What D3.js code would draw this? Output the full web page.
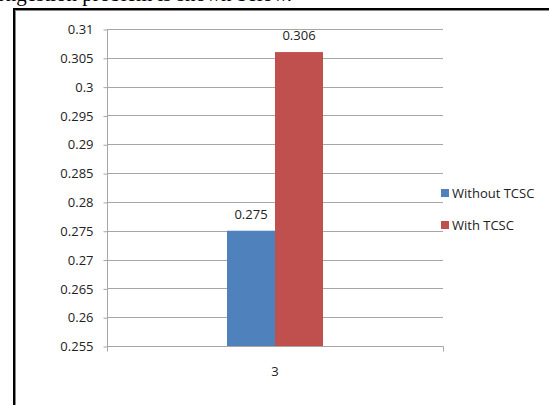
<!DOCTYPE html>
<html><head><meta charset="utf-8">
<script src="https://cdn.jsdelivr.net/npm/d3@7"></script>
<style>body{margin:0;background:#fff}svg{display:block}</style>
</head><body>
<svg id="c" width="549" height="405"></svg>
<script>
const categories = ["3"];
const seriesNames = ["Without TCSC", "With TCSC"];
const withoutTCSC = [0.275];
const withTCSC = [0.306];
const seriesValues = [withoutTCSC, withTCSC];
const seriesColors = ["#4F81BD", "#C0504D"];
const yTicks = [0.255,0.26,0.265,0.27,0.275,0.28,0.285,0.29,0.295,0.3,0.305,0.31];
const yTickLabels = ["0.255","0.26","0.265","0.27","0.275","0.28","0.285","0.29","0.295","0.3","0.305","0.31"];

const svg = d3.select("#c");
const font = "'Open Sans', sans-serif";
const L = 107, R = 443, T = 29, B = 346;

// caption fragment above frame (clipped at top edge, as in the source page)
svg.append("text").attr("x", -14).attr("y", 0.5)
  .attr("font-family", "'Liberation Serif', serif").attr("font-size", 21)
  .attr("fill", "#000").text("congestion problem is shown below.");

// frame
svg.append("line").attr("x1",13).attr("x2",549).attr("y1",9).attr("y2",9).attr("stroke","#000").attr("stroke-width",2);
svg.append("line").attr("x1",13).attr("x2",549).attr("y1",10.5).attr("y2",10.5).attr("stroke","#888").attr("stroke-width",1);
svg.append("line").attr("x1",14).attr("x2",14).attr("y1",8).attr("y2",405).attr("stroke","#000").attr("stroke-width",2);
svg.append("line").attr("x1",15.5).attr("x2",15.5).attr("y1",10).attr("y2",405).attr("stroke","#888").attr("stroke-width",1);

const y = d3.scaleLinear().domain([0.255, 0.31]).range([B, T]);
const x0 = d3.scaleBand().domain(categories).range([L, R]).paddingInner(0).paddingOuter(1.25);
const x1 = d3.scaleBand().domain(seriesNames).range([0, x0.bandwidth()]);

// gridlines
svg.append("g").selectAll("line").data(yTicks.slice(1)).join("line")
  .attr("x1", L).attr("x2", R)
  .attr("y1", d => Math.round(y(d)) + 0.5).attr("y2", d => Math.round(y(d)) + 0.5)
  .attr("stroke", "#a6a6a6").attr("stroke-width", 1);

// y axis
const yAxis = d3.axisLeft(y).tickValues(yTicks).tickFormat((d,i) => yTickLabels[i]).tickSize(4).tickPadding(10);
const gy = svg.append("g").attr("transform", `translate(${L + 0.5},0.5)`).call(yAxis);
gy.select(".domain").attr("stroke", "#a6a6a6").attr("d", `M0,${T}V${B + 5}`);
gy.selectAll(".tick line").attr("stroke", "#a6a6a6");
gy.selectAll(".tick text").attr("font-family", font).attr("font-size", 13).attr("fill", "#222");

// x axis
const xAxis = d3.axisBottom(x0).tickSize(0).tickPadding(20);
const gx = svg.append("g").attr("transform", `translate(0,${B + 0.5})`).call(xAxis);
gx.select(".domain").attr("stroke", "#a6a6a6").attr("d", `M${L},0H${R + 0.5}V5`);
gx.selectAll(".tick text").attr("font-family", font).attr("font-size", 13).attr("fill", "#222");

// bars
const groups = svg.append("g").selectAll("g").data(categories).join("g")
  .attr("transform", c => `translate(${x0(c)},0)`);
seriesNames.forEach((s, si) => {
  groups.append("rect")
    .attr("x", x1(s)).attr("width", x1.bandwidth())
    .attr("y", (c, ci) => y(seriesValues[si][ci]))
    .attr("height", (c, ci) => B - y(seriesValues[si][ci]))
    .attr("fill", seriesColors[si]);
  groups.append("text")
    .attr("x", x1(s) + x1.bandwidth() / 2)
    .attr("y", (c, ci) => y(seriesValues[si][ci]) - 12)
    .attr("text-anchor", "middle").attr("font-family", font).attr("font-size", 13).attr("fill", "#222")
    .text((c, ci) => d3.format(".3f")(seriesValues[si][ci]));
});

// legend
const lg = svg.append("g").selectAll("g").data(seriesNames).join("g")
  .attr("transform", (d, i) => `translate(441,${189 + i * 32})`);
lg.append("rect").attr("width", 8).attr("height", 8).attr("fill", (d, i) => seriesColors[i]);
lg.append("text").attr("x", 11).attr("y", 8.5).attr("font-family", font).attr("font-size", 13).attr("fill", "#222").text(d => d);
</script>
</body></html>
